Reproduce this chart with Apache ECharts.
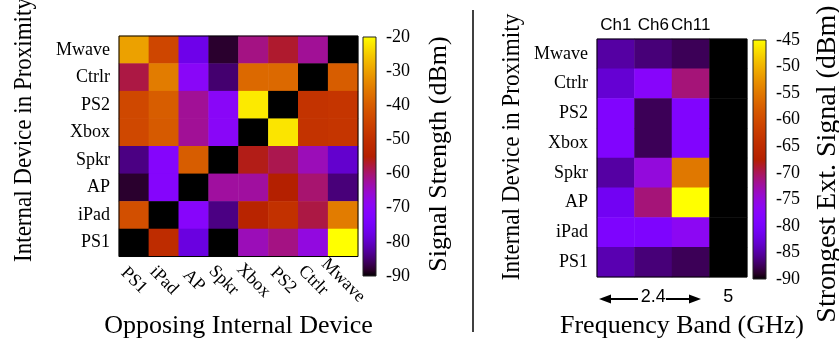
<!DOCTYPE html>
<html>
<head>
<meta charset="utf-8">
<script src="https://cdn.jsdelivr.net/npm/echarts@6/dist/echarts.min.js"></script>
<style>
    html, body { margin: 0; padding: 0; background: #fff; }
    #chart { width: 839px; height: 344px; }
</style>
</head>
<body>
<div id="chart"></div>
<script>
// rows, top to bottom
var proximityDevices = ['Mwave', 'Ctrlr', 'PS2', 'Xbox', 'Spkr', 'AP', 'iPad', 'PS1'];
// columns, left to right
var opposingDevices = ['PS1', 'iPad', 'AP', 'Spkr', 'Xbox', 'PS2', 'Ctrlr', 'Mwave'];

// signal strength (dBm), one row per proximity device
var signalStrength = [
    [-30, -44.5, -77, -88, -61, -57, -62, -90],
    [-58, -35, -70, -85, -38, -38, -90, -40],
    [-44, -40, -62, -70, -22, -90, -49, -48.5],
    [-44, -40.5, -62, -70, -90, -22.5, -49, -48.5],
    [-84, -71, -40, -90, -56, -58.5, -64, -79.5],
    [-88, -71, -90, -62.5, -62.5, -55, -60, -84.5],
    [-42.5, -90, -70.5, -84, -53.5, -49.5, -58, -35],
    [-90, -51, -78, -90, -64, -61, -67, -20]
];
var signalTicks = [-90, -80, -70, -60, -50, -40, -30, -20];

// right panel: channels of the 2.4 GHz band plus the 5 GHz band
var bandColumns = ['Ch1', 'Ch6', 'Ch11', '5GHz'];
var bandTopLabels = ['Ch1', 'Ch6', 'Ch11', ''];
var bandBottomLabels = ['', '2.4', '', '5'];

// strongest external signal (dBm), one row per proximity device
var extSignal = [
    [-85, -86.5, -87.5, -90],
    [-83, -77.5, -71, -90],
    [-78.5, -87.5, -78.5, -90],
    [-78.5, -87.5, -78.5, -90],
    [-85, -75, -55, -90],
    [-81, -71, -45, -90],
    [-79, -79, -76.5, -90],
    [-84.5, -86.5, -87.5, -90]
];
var extTicks = [-90, -85, -80, -75, -70, -65, -60, -55, -50, -45];

var SERIF = 'Liberation Serif';
var SANS = 'Liberation Sans';

/**
 * gnuplot default pm3d palette (rgbformulae 7,5,15)
 */
function gnuplotPalette(steps) {
    var colors = [];
    for (var i = 0; i <= steps; i++) {
        var t = i / steps;
        var r = Math.sqrt(t);
        var g = t * t * t;
        var b = Math.max(0, Math.sin(2 * Math.PI * t));
        colors.push('rgb(' + Math.round(r * 255) + ',' + Math.round(g * 255) + ',' + Math.round(b * 255) + ')');
    }
    return colors;
}

/**
 * matrix rows -> heatmap cells [col, row, value]
 */
function toCells(matrix) {
    var cells = [];
    for (var r = 0; r < matrix.length; r++) {
        for (var c = 0; c < matrix[r].length; c++) {
            cells.push([c, r, matrix[r][c]]);
        }
    }
    return cells;
}

/**
 * vertical colour bar drawn as a grid background
 */
function colorBarGrid(left, top, colors) {
    var stops = [];
    for (var i = 0; i < colors.length; i++) {
        stops.push({offset: i / (colors.length - 1), color: colors[i]});
    }
    return {
        left: left, top: top, width: 13, height: 239,
        show: true,
        backgroundColor: new echarts.graphic.LinearGradient(0, 1, 0, 0, stops),
        borderColor: '#222',
        borderWidth: 1
    };
}

function colorBarAxis(gridIndex, ticks) {
    return {
        type: 'value',
        gridIndex: gridIndex,
        position: 'right',
        min: ticks[0],
        max: ticks[ticks.length - 1],
        interval: ticks[1] - ticks[0],
        axisLine: {show: false},
        axisTick: {show: false},
        splitLine: {show: false},
        axisLabel: {margin: 10, fontFamily: SERIF, fontSize: 18, color: '#000'}
    };
}

// rotated axis title; squeeze is a scale along the text (the source figure is slightly stretched)
function rotatedTitle(text, x, y, size, squeeze) {
    return {
        type: 'text',
        x: x, y: y,
        rotation: Math.PI / 2,
        scaleX: squeeze || 1,
        style: {text: text, fontFamily: SERIF, fontSize: size, fill: '#000', align: 'center', verticalAlign: 'middle'}
    };
}

var palette = gnuplotPalette(40);
var chart = echarts.init(document.getElementById('chart'), null, {renderer: 'canvas'});

var catLabel = {fontFamily: SERIF, fontSize: 18, color: '#000', margin: 9};

var option = {
    animation: false,
    backgroundColor: '#fff',
    grid: [
        {left: 119, top: 36, width: 239, height: 239, show: true, z: 5, backgroundColor: 'transparent', borderColor: '#000', borderWidth: 1},
        {left: 597, top: 39, width: 150, height: 239, show: true, z: 5, backgroundColor: 'transparent', borderColor: '#000', borderWidth: 1},
        colorBarGrid(363, 37, palette),
        colorBarGrid(753, 40, palette)
    ],
    xAxis: [
        {
            type: 'category', gridIndex: 0, data: opposingDevices,
            axisLine: {show: false}, axisTick: {show: false}, splitLine: {show: false},
            axisLabel: {interval: 0, rotate: -45, align: 'center', verticalAlign: 'middle', margin: 24,
                fontFamily: SERIF, fontSize: 18, color: '#000'},
            name: 'Opposing Internal Device', nameLocation: 'middle', nameGap: 39,
            nameTextStyle: {fontFamily: SERIF, fontSize: 26, color: '#000'}
        },
        {
            type: 'category', gridIndex: 1, data: bandColumns,
            axisLine: {show: false}, axisTick: {show: false}, splitLine: {show: false},
            axisLabel: {interval: 0, margin: 11, fontFamily: SANS, fontSize: 18, color: '#000',
                formatter: function (v, i) { return bandBottomLabels[i]; }},
            name: 'Frequency Band (GHz)', nameLocation: 'middle', nameGap: 36,
            nameTextStyle: {fontFamily: SERIF, fontSize: 26, color: '#000', padding: [0, 0, 0, 20]}
        },
        {
            type: 'category', gridIndex: 1, data: bandColumns, position: 'top',
            axisLine: {show: false}, axisTick: {show: false}, splitLine: {show: false},
            axisLabel: {interval: 0, margin: 5, fontFamily: SANS, fontSize: 17, color: '#000',
                formatter: function (v, i) { return bandTopLabels[i]; }}
        },
        {type: 'value', gridIndex: 2, show: false},
        {type: 'value', gridIndex: 3, show: false}
    ],
    yAxis: [
        {
            type: 'category', gridIndex: 0, data: proximityDevices, inverse: true,
            axisLine: {show: false}, axisTick: {show: false}, splitLine: {show: false},
            axisLabel: catLabel
        },
        {
            type: 'category', gridIndex: 1, data: proximityDevices, inverse: true,
            axisLine: {show: false}, axisTick: {show: false}, splitLine: {show: false},
            axisLabel: catLabel
        },
        colorBarAxis(2, signalTicks),
        colorBarAxis(3, extTicks)
    ],
    visualMap: [
        {type: 'continuous', show: false, seriesIndex: 0, dimension: 2,
            min: signalTicks[0], max: signalTicks[signalTicks.length - 1], inRange: {color: palette}},
        {type: 'continuous', show: false, seriesIndex: 1, dimension: 2,
            min: extTicks[0], max: extTicks[extTicks.length - 1], inRange: {color: palette}}
    ],
    series: [
        {
            name: 'Signal Strength', type: 'heatmap', xAxisIndex: 0, yAxisIndex: 0,
            data: toCells(signalStrength), itemStyle: {borderWidth: 0}, emphasis: {disabled: true}
        },
        {
            name: 'Strongest Ext. Signal', type: 'heatmap', xAxisIndex: 1, yAxisIndex: 1,
            data: toCells(extSignal), itemStyle: {borderWidth: 0}, emphasis: {disabled: true}
        }
    ],
    graphic: [
        // divider between the two panels
        {type: 'line', shape: {x1: 473, y1: 10, x2: 473, y2: 332}, style: {stroke: '#000', lineWidth: 1.5}},
        rotatedTitle('Internal Device in Proximity', 24, 130, 25, 0.92),
        rotatedTitle('Signal Strength (dBm)', 439, 154, 26),
        rotatedTitle('Internal Device in Proximity', 512, 147, 25, 0.93),
        rotatedTitle('Strongest Ext. Signal (dBm)', 828, 164, 28),
        // 2.4 GHz band arrows
        {type: 'line', shape: {x1: 608, y1: 299, x2: 638, y2: 299}, style: {stroke: '#000', lineWidth: 2}},
        {type: 'polygon', shape: {points: [[599, 299], [611, 294.5], [611, 303.5]]}, style: {fill: '#000'}},
        {type: 'line', shape: {x1: 666, y1: 299, x2: 692, y2: 299}, style: {stroke: '#000', lineWidth: 2}},
        {type: 'polygon', shape: {points: [[701, 299], [689, 294.5], [689, 303.5]]}, style: {fill: '#000'}}
    ]
};

chart.setOption(option);
</script>
</body>
</html>
